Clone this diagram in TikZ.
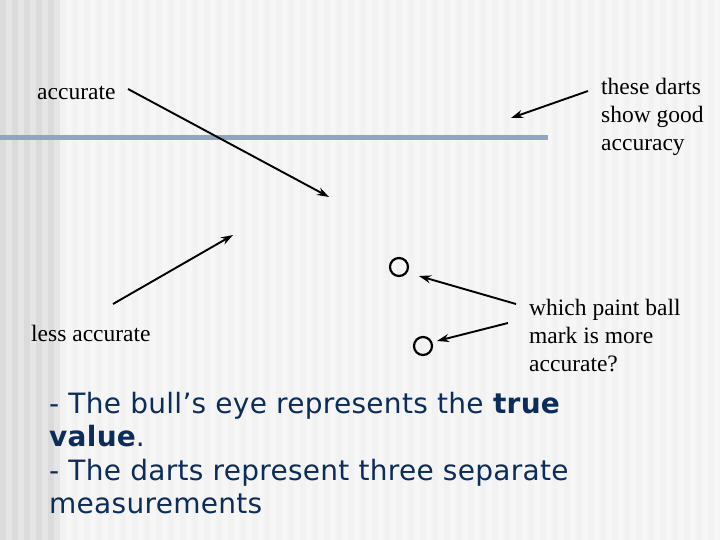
\documentclass[tikz,border=0pt]{standalone}
\usepackage{fontspec}
\setmainfont{Liberation Serif}
\newfontfamily\verd{DejaVu Sans}
\usetikzlibrary{arrows.meta}
\definecolor{navy}{HTML}{0C2D5A}
\definecolor{barblue}{HTML}{8FA6C1}
\begin{document}
\begin{tikzpicture}[x=1pt,y=-1pt,
  lbl/.style={font=\fontsize{23.5}{28}\selectfont, align=left, inner sep=0pt},
  arr/.style={line width=1.9pt, -{Stealth[length=12pt,width=8pt]}},
  ring/.style={circle, draw, line width=2.2pt, minimum size=18pt, inner sep=0pt}]
\useasboundingbox (0,0) rectangle (720,540);
\fill[white!95!black] (0,0) rectangle (720,540);
\foreach \i in {0,...,59}{
  \fill[white!96.5!black] ({12*\i+6},0) rectangle ({12*\i+12},540);
}
\foreach \i in {0,...,4}{
  \fill[white!86!black] ({12*\i},0) rectangle ({12*\i+6},540);
  \fill[white!90!black] ({12*\i+6},0) rectangle ({12*\i+12},540);
}
\fill[barblue] (0,135) rectangle (548,140);

\node[lbl, anchor=west] (acc) at (37,93) {accurate};
\node[lbl, anchor=north west] (good) at (601,78) {these darts\\show good\\accuracy};
\node[lbl, anchor=west] (less) at (31,333) {less accurate};
\node[lbl, anchor=north west] (which) at (529,299) {which paint ball\\mark is more\\accurate?};
\node[ring] (c1) at (399,267) {};
\node[ring] (c2) at (423,346) {};

\coordinate (a1s) at (128,89);
\coordinate (a1e) at (329,197);
\coordinate (a2s) at (113,304);
\coordinate (a2e) at (233,235);
\coordinate (a3s) at (588,91);
\coordinate (a3e) at (511,118);
\coordinate (a4s) at (516,304);
\coordinate (a4e) at (419,276);
\coordinate (a5s) at (508,323);
\coordinate (a5e) at (437,341);
\draw[arr] (a1s) -- (a1e);
\draw[arr] (a2s) -- (a2e);
\draw[arr] (a3s) -- (a3e);
\draw[arr] (a4s) -- (a4e);
\draw[arr] (a5s) -- (a5e);

\node[anchor=north west, inner sep=0pt, align=left, text=navy,
  font=\verd\fontsize{28}{33.5}\selectfont\addfontfeature{LetterSpace=1}] (body) at (49,392)
  {- The bull’s eye represents the \textbf{true}\\\textbf{value}.\\- The darts represent three separate\\measurements};
\end{tikzpicture}
\end{document}
